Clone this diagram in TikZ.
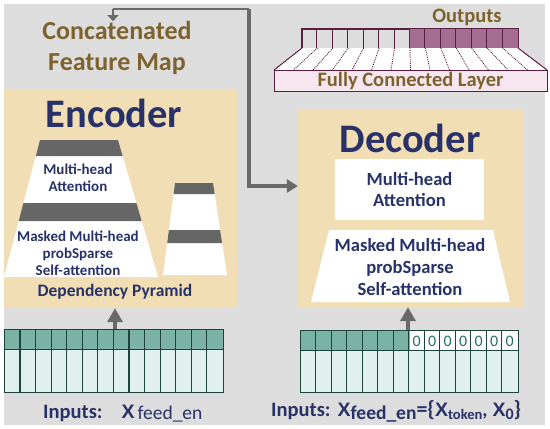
\documentclass[tikz,border=0pt]{standalone}
\usepackage{fontspec}
\setmainfont{Carlito}
\newfontfamily\xfont{Liberation Sans}
\usetikzlibrary{arrows.meta,calc}
\definecolor{bg}{RGB}{221,221,221}
\definecolor{tan}{RGB}{241,222,180}
\definecolor{navy}{RGB}{40,50,105}
\definecolor{olive}{RGB}{125,98,45}
\definecolor{band}{RGB}{102,102,102}
\definecolor{tealtop}{RGB}{122,178,165}
\definecolor{teallight}{RGB}{226,240,237}
\definecolor{tealline}{RGB}{28,68,58}
\definecolor{tealtext}{RGB}{40,110,95}
\definecolor{mauve}{RGB}{165,108,145}
\definecolor{mauveline}{RGB}{90,30,65}
\definecolor{pinkface}{RGB}{246,230,240}
\definecolor{arrowgray}{RGB}{105,105,105}
\newcommand{\fsz}[1]{\fontsize{#1}{#1}\selectfont}
\begin{document}
\begin{tikzpicture}[x=1pt,y=-1pt,
  panel/.style={fill=tan, draw=none, inner sep=0pt},
  title/.style={font=\fsz{40.5}\bfseries, text=navy, inner sep=0pt},
  navytext/.style={text=navy, align=center, inner sep=0pt},
  olivetext/.style={text=olive, font=\fsz{20.5}\bfseries, align=center, inner sep=0pt},
  gridbox/.style={draw=tealline, line width=1.2pt, inner sep=0pt},
  cellline/.style={draw=tealline, line width=1.1pt},
  fbline/.style={draw=arrowgray, line width=3.5pt},
  fbarrow/.style={draw=arrowgray, line width=3.5pt, -{Triangle[width=13pt,length=11pt]}},
  fbsmall/.style={draw=arrowgray, line width=2.5pt, -{Triangle[width=11pt,length=6pt]}},
  uparrow/.style={draw=arrowgray, line width=3.5pt, -{Triangle[width=15pt,length=14pt]}},
  bandfill/.style={fill=band},
  outline/.style={draw=mauveline, line width=1pt}
]
\useasboundingbox (0,0) rectangle (550,429);
\fill[bg] (4,4) rectangle (545,425);

% panels
\node[panel, minimum width=233pt, minimum height=219pt] (enc) at (120.5,198.5) {};
\node[panel, minimum width=226pt, minimum height=197pt] (dec) at (411,208.5) {};
\node[title] (enctitle) at (114,113) {Encoder};
\node[title] (dectitle) at (410,138) {Decoder};

% concatenated label
\node[olivetext, font=\fsz{26}\bfseries, align=center] (concat) at (117,48)
  {Concatenated\\[5pt]Feature Map};

% encoder pyramid (big)
\fill[white] (40,140) -- (118,140) -- (158,277) -- (4,277) -- cycle;
\fill[bandfill] (40,140) -- (118,140) -- (122.7,156) -- (35.8,156) -- cycle;
\fill[bandfill] (23.4,203) -- (136.4,203) -- (141.7,221) -- (18.7,221) -- cycle;
\node[navytext, font=\fsz{15}\bfseries] (encatt) at (78,178) {Multi-head\\[2pt]Attention};
\node[navytext, font=\fsz{15}\bfseries] (encmask) at (78,253) {Masked Multi-head\\[2pt]probSparse\\[2pt]Self-attention};
% encoder pyramid (small)
\fill[white] (175,183) -- (213,183) -- (227,275) -- (163,275) -- cycle;
\fill[bandfill] (175,183) -- (213,183) -- (214.7,194) -- (173.6,194) -- cycle;
\fill[bandfill] (168.9,230) -- (220.1,230) -- (222.1,243) -- (167.2,243) -- cycle;
\node[navytext, font=\fsz{17.5}\bfseries] (pyr) at (115,292) {Dependency Pyramid};

% decoder blocks
\node[fill=white, minimum width=149pt, minimum height=61pt, inner sep=0pt] (datt) at (409.5,189.5) {};
\node[navytext, font=\fsz{18.6}\bfseries] at (datt) {Multi-head\\[3pt]Attention};
\fill[white] (329,230) -- (493,230) -- (510,302) -- (311,302) -- cycle;
\node[navytext, font=\fsz{18.6}\bfseries] (dmask) at (410,267) {Masked Multi-head\\[3pt]probSparse\\[3pt]Self-attention};

% output layer
\node[outline, minimum width=216pt, minimum height=19pt, inner sep=0pt] (outrow) at (410,38.5) {};
\fill[mauve] (outrow.north) rectangle (outrow.south east);
\foreach \i in {1,...,13} {
  \draw[mauveline, line width=1pt] ($(outrow.north west)+(\i*216/14,0)$) -- ($(outrow.south west)+(\i*216/14,0)$);
}
\draw[outline] (outrow.north west) rectangle (outrow.south east);
\fill[white] (302,48) -- (518,48) -- (547,70) -- (274,70) -- cycle;
\foreach \i in {0,...,14} {
  \draw[mauveline, line width=0.9pt, densely dotted] (302+\i*216/14,48) -- (274+\i*273/14,70);
}
\draw[mauveline, line width=0.8pt] (302,48) -- (274,70) (518,48) -- (547,70);
\node[fill=pinkface, draw=mauveline, line width=0.6pt, minimum width=273pt, minimum height=21pt, inner sep=0pt] (fc) at (410.5,80.5) {};
\node[olivetext] (fctext) at (fc) {Fully Connected Layer};
\node[olivetext] (outputs) at (467,17) {Outputs};

% encoder input grid
\node[gridbox, minimum width=218pt, minimum height=62pt] (encin) at (114,361) {};
\fill[tealtop] (encin.north west) rectangle ($(encin.north east)+(0,20)$);
\fill[teallight] ($(encin.north west)+(0,20)$) rectangle (encin.south east);
\foreach \i in {1,...,13} {
  \draw[cellline] ($(encin.north west)+(\i*218/14,0)$) -- ($(encin.south west)+(\i*218/14,0)$);
}
\draw[cellline] ($(encin.north west)+(0,20)$) -- ($(encin.north east)+(0,20)$);
\draw[gridbox] (encin.north west) rectangle (encin.south east);

% decoder input grid
\node[gridbox, minimum width=217pt, minimum height=61pt] (decin) at (409.5,361.5) {};
\fill[tealtop] (decin.north west) rectangle ($(decin.north)+(0,20)$);
\fill[white] (decin.north) rectangle ($(decin.north east)+(0,20)$);
\fill[teallight] ($(decin.north west)+(0,20)$) rectangle (decin.south east);
\foreach \i in {1,...,13} {
  \draw[cellline] ($(decin.north west)+(\i*217/14,0)$) -- ($(decin.south west)+(\i*217/14,0)$);
}
\foreach \i in {7,...,13} {
  \node[text=tealtext, font=\fsz{16}, inner sep=0pt] at ($(decin.north west)+(\i*217/14+217/28,10.5)$) {0};
}
\draw[cellline] ($(decin.north west)+(0,20)$) -- ($(decin.north east)+(0,20)$);
\draw[gridbox] (decin.north west) rectangle (decin.south east);

% input labels
\node[anchor=base west, text=navy, inner sep=0pt] (encinlabel) at (43,418)
  {{\fsz{20.5}\bfseries Inputs:}\hspace*{19pt}{\xfont\bfseries\fsz{19.5}X}\hspace*{3pt}{\fsz{19.5}\raisebox{-1pt}{feed\_en}}};
\node[anchor=base west, text=navy, inner sep=0pt] (decinlabel) at (271,416)
  {{\fsz{20.5}\bfseries Inputs:}\hspace*{7pt}{\xfont\bfseries\fsz{19.5}X}{\fsz{19.5}\bfseries\raisebox{-3pt}{feed\_en}}{\fsz{22}\bfseries=\{}{\xfont\bfseries\fsz{19.5}X}{\fsz{14.5}\bfseries\raisebox{-3pt}{token}}{\fsz{20}\bfseries,}\hspace*{5pt}{\xfont\bfseries\fsz{19.5}X}{\fsz{16}\bfseries\raisebox{-3pt}{0}}{\fsz{22}\bfseries\}}};

% connectors
\draw[uparrow] (encin.north -| 115,0) -- (115,0 |- enc.south);
\draw[uparrow] (decin.north -| 408,0) -- (408,0 |- dec.south);
\coordinate (fbturn) at (249,9);
\coordinate (fbleft) at (113,9);
\draw[fbsmall] (fbleft) -- (concat.north -| fbleft);
\draw[line width=2.5pt, arrowgray] (fbleft) -- (fbturn);
\draw[fbarrow] (fbturn) -- (249,186) -- (dec.west |- 0,186);
\end{tikzpicture}
\end{document}
